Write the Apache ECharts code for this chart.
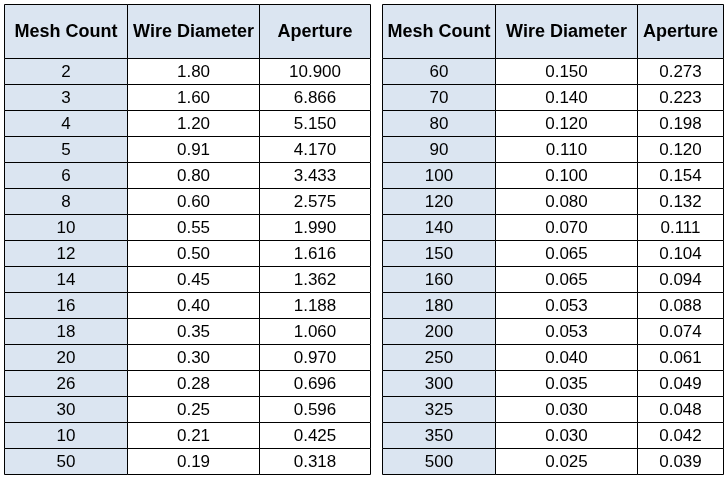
<!DOCTYPE html>
<html>
<head>
<meta charset="utf-8">
<script src="https://cdn.jsdelivr.net/npm/echarts@6/dist/echarts.min.js"></script>
<style>
html,body{margin:0;padding:0;background:#fff;}
#chart{width:726px;height:480px;}
</style>
</head>
<body>
<div id="chart"></div>
<script>
// ---- data ----
var headers = ["Mesh Count", "Wire Diameter", "Aperture"];
var meshLeft = [2, 3, 4, 5, 6, 8, 10, 12, 14, 16, 18, 20, 26, 30, 10, 50];
var wireLeft = [1.80, 1.60, 1.20, 0.91, 0.80, 0.60, 0.55, 0.50, 0.45, 0.40, 0.35, 0.30, 0.28, 0.25, 0.21, 0.19];
var apertureLeft = [10.900, 6.866, 5.150, 4.170, 3.433, 2.575, 1.990, 1.616, 1.362, 1.188, 1.060, 0.970, 0.696, 0.596, 0.425, 0.318];
var meshRight = [60, 70, 80, 90, 100, 120, 140, 150, 160, 180, 200, 250, 300, 325, 350, 500];
var wireRight = [0.150, 0.140, 0.120, 0.110, 0.100, 0.080, 0.070, 0.065, 0.065, 0.053, 0.053, 0.040, 0.035, 0.030, 0.030, 0.025];
var apertureRight = [0.273, 0.223, 0.198, 0.120, 0.154, 0.132, 0.111, 0.104, 0.094, 0.088, 0.074, 0.061, 0.049, 0.048, 0.042, 0.039];

// ---- layout (axis units) ----
var HEADER_H = 54, ROW_H = 26, NROWS = 16;
var TABLE_H = HEADER_H + ROW_H * NROWS;
var colEdgesLeft = [0, 123, 255, 366];
var colEdgesRight = [0, 113, 255, 341];
var decimalsLeft = [0, 2, 3];
var decimalsRight = [0, 3, 3];
var HEAD_FILL = '#dbe5f1';

function buildCells(cols, decimals) {
  var cells = [];
  for (var c = 0; c < 3; c++) cells.push({ col: c, row: -1, text: headers[c] });
  for (var r = 0; r < NROWS; r++) {
    for (var c2 = 0; c2 < 3; c2++) {
      cells.push({ col: c2, row: r, text: cols[c2][r].toFixed(decimals[c2]) });
    }
  }
  return cells;
}

function makeSeries(idx, cells, edges) {
  return {
    type: 'custom',
    xAxisIndex: idx,
    yAxisIndex: idx,
    coordinateSystem: 'cartesian2d',
    data: cells.map(function (c) {
      var y0 = c.row < 0 ? 0 : HEADER_H + ROW_H * c.row;
      return [edges[c.col], y0, edges[c.col + 1], c.row < 0 ? HEADER_H : y0 + ROW_H];
    }),
    renderItem: function (params, api) {
      var cell = cells[params.dataIndex];
      var p0 = api.coord([api.value(0), api.value(1)]);
      var p1 = api.coord([api.value(2), api.value(3)]);
      var x0 = Math.round(p0[0]) + 0.5, y0 = Math.round(p0[1]) + 0.5;
      var x1 = Math.round(p1[0]) + 0.5, y1 = Math.round(p1[1]) + 0.5;
      var header = cell.row < 0;
      return {
        type: 'group',
        children: [
          {
            type: 'rect',
            shape: { x: x0, y: y0, width: x1 - x0, height: y1 - y0 },
            style: { fill: (header || cell.col === 0) ? HEAD_FILL : '#ffffff', stroke: '#000000', lineWidth: 1 }
          },
          {
            type: 'text',
            x: (x0 + x1) / 2,
            y: (y0 + y1) / 2 + 1,
            style: {
              text: cell.text,
              fill: '#000000',
              font: header ? 'bold 18px "Liberation Sans", Arial, sans-serif' : '17px "Liberation Sans", Arial, sans-serif',
              align: 'center',
              verticalAlign: 'middle'
            }
          }
        ]
      };
    }
  };
}

var cellsLeft = buildCells([meshLeft, wireLeft, apertureLeft], decimalsLeft);
var cellsRight = buildCells([meshRight, wireRight, apertureRight], decimalsRight);

var chart = echarts.init(document.getElementById('chart'), null, { renderer: 'canvas' });
chart.setOption({
  animation: false,
  backgroundColor: '#ffffff',
  grid: [
    { left: 4, top: 4, width: 366, height: TABLE_H },
    { left: 382, top: 4, width: 341, height: TABLE_H }
  ],
  xAxis: [
    { gridIndex: 0, type: 'value', min: 0, max: colEdgesLeft[3], show: false },
    { gridIndex: 1, type: 'value', min: 0, max: colEdgesRight[3], show: false }
  ],
  yAxis: [
    { gridIndex: 0, type: 'value', min: 0, max: TABLE_H, inverse: true, show: false },
    { gridIndex: 1, type: 'value', min: 0, max: TABLE_H, inverse: true, show: false }
  ],
  series: [
    makeSeries(0, cellsLeft, colEdgesLeft),
    makeSeries(1, cellsRight, colEdgesRight)
  ]
});
</script>
</body>
</html>
